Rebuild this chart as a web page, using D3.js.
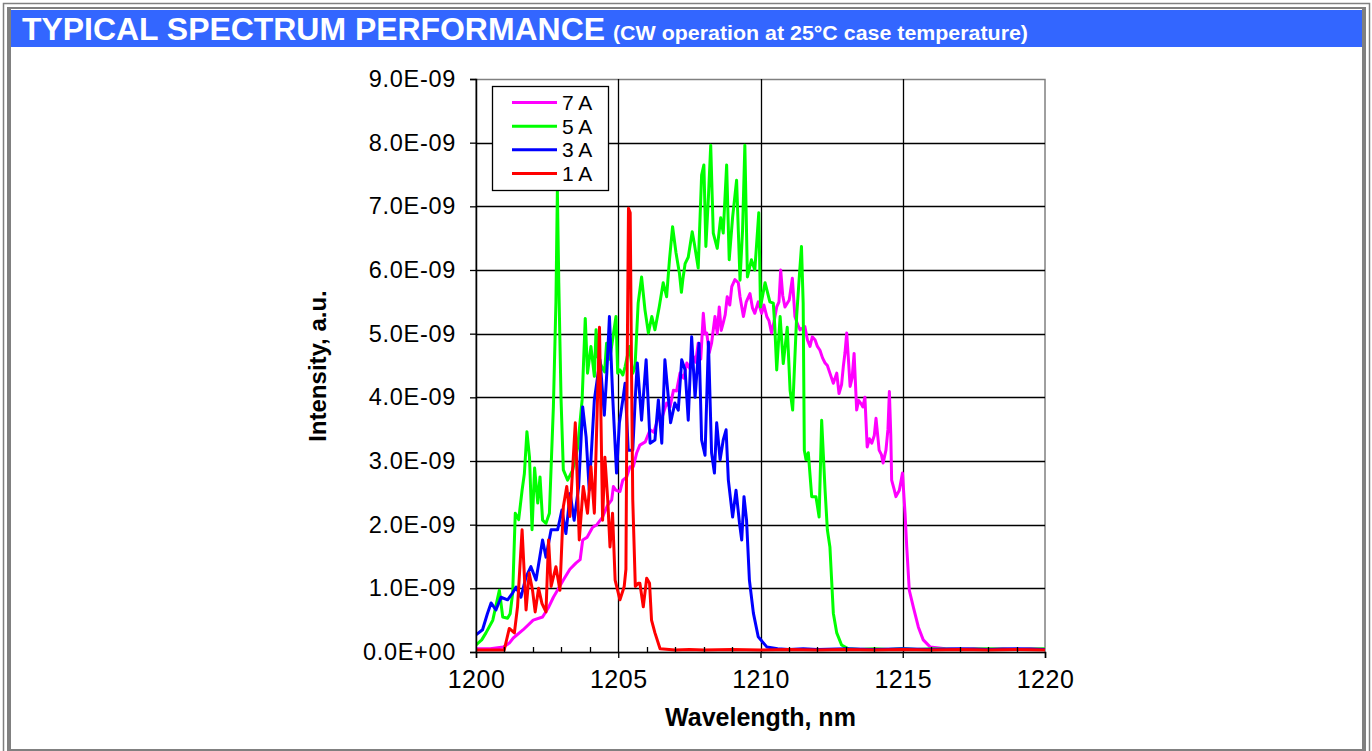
<!DOCTYPE html>
<html>
<head>
<meta charset="utf-8">
<script src="https://cdn.jsdelivr.net/npm/d3@7/dist/d3.min.js"></script>
<style>
  html, body { margin: 0; padding: 0; background: #ffffff; }
  svg { display: block; font-family: "Liberation Sans", Arial, sans-serif; }
</style>
</head>
<body>
<svg id="chart" width="1372" height="751"></svg>
<script>
// ---------------- DATA ----------------
const titleMain = "TYPICAL SPECTRUM PERFORMANCE";
const titleSub = "(CW operation at 25\u00B0C case temperature)";
const xLabel = "Wavelength, nm";
const yLabel = "Intensity, a.u.";
const xTicks = [1200, 1205, 1210, 1215, 1220];
const xMinorTicks = [1201,1202,1203,1204,1206,1207,1208,1209,1211,1212,1213,1214,1216,1217,1218,1219];
const yTicks = [0,1,2,3,4,5,6,7,8,9];          // in units of 1E-09
const intensityUnit = 1e-9;
const seriesNames = ["7 A", "5 A", "3 A", "1 A"];
const seriesColors = ["#ff00ff", "#00ff00", "#0000ff", "#ff0000"];

// [wavelength nm, intensity in 1E-09]
const spec7A = [
  [1200.0,0.05],[1200.5,0.05],[1200.96,0.08],[1201.17,0.14],[1201.31,0.22],[1201.66,0.35],[1202.01,0.5],
  [1202.34,0.55],[1202.55,0.7],[1202.72,0.86],[1202.93,1.02],[1203.07,1.13],[1203.3,1.3],[1203.52,1.4],
  [1203.66,1.45],[1203.75,1.76],[1203.9,1.8],[1204.1,1.96],[1204.25,2.0],[1204.45,2.12],[1204.62,2.3],
  [1204.77,2.39],[1204.83,2.6],[1204.92,2.54],[1205.06,2.52],[1205.16,2.7],[1205.3,2.75],[1205.41,2.91],
  [1205.53,2.91],[1205.65,3.13],[1205.76,3.25],[1205.95,3.3],[1206.12,3.49],[1206.25,3.45],[1206.41,3.69],
  [1206.55,3.7],[1206.7,3.91],[1206.82,3.85],[1206.94,4.11],[1207.05,4.1],[1207.17,4.38],[1207.3,4.3],
  [1207.41,4.54],[1207.52,4.45],[1207.64,4.64],[1207.72,4.55],[1207.81,4.85],[1207.9,4.6],[1207.99,5.32],
  [1208.05,5.0],[1208.11,5.01],[1208.2,4.7],[1208.28,4.85],[1208.4,5.27],[1208.48,5.0],[1208.55,5.42],
  [1208.62,5.05],[1208.69,5.17],[1208.76,5.3],[1208.83,5.58],[1208.92,5.45],[1208.99,5.74],[1209.1,5.85],
  [1209.22,5.8],[1209.28,5.58],[1209.4,5.27],[1209.5,5.5],[1209.63,5.63],[1209.72,5.4],[1209.8,5.32],
  [1209.92,5.5],[1210.04,5.32],[1210.12,5.45],[1210.22,5.27],[1210.3,5.2],[1210.39,5.01],[1210.48,5.2],
  [1210.57,5.42],[1210.65,5.5],[1210.71,6.0],[1210.78,5.6],[1210.86,5.42],[1211.01,5.53],[1211.12,5.87],
  [1211.21,5.27],[1211.3,5.15],[1211.39,5.06],[1211.56,5.11],[1211.65,4.9],[1211.74,4.8],[1211.82,4.95],
  [1211.92,4.9],[1212.0,4.8],[1212.09,4.74],[1212.18,4.62],[1212.27,4.54],[1212.35,4.5],[1212.44,4.38],
  [1212.56,4.22],[1212.68,4.38],[1212.76,4.06],[1212.85,4.2],[1212.91,4.48],[1212.97,4.7],[1213.03,5.01],
  [1213.09,4.6],[1213.15,4.17],[1213.22,4.3],[1213.29,4.69],[1213.38,3.8],[1213.45,3.95],[1213.52,3.91],
  [1213.6,3.85],[1213.67,4.0],[1213.75,3.22],[1213.83,3.35],[1213.91,3.28],[1214.0,3.4],[1214.06,3.67],
  [1214.12,3.4],[1214.17,3.17],[1214.25,3.1],[1214.31,2.97],[1214.41,3.17],[1214.48,3.5],[1214.53,4.09],
  [1214.58,3.4],[1214.61,2.7],[1214.7,2.55],[1214.76,2.44],[1214.88,2.54],[1214.99,2.81],[1215.08,2.18],
  [1215.14,1.65],[1215.23,0.97],[1215.37,0.71],[1215.55,0.39],[1215.72,0.19],[1215.96,0.08],[1216.5,0.05],
  [1217.0,0.04],[1217.5,0.05],[1218.0,0.04],[1218.5,0.05],[1219.0,0.04],[1219.5,0.05],[1220.0,0.04]
];

const spec5A = [
  [1200.0,0.11],[1200.2,0.19],[1200.35,0.3],[1200.59,0.5],[1200.82,0.97],[1200.94,0.55],[1201.11,0.53],
  [1201.2,0.6],[1201.29,0.93],[1201.38,2.18],[1201.5,2.08],[1201.62,2.54],[1201.7,2.8],[1201.79,3.46],
  [1201.88,3.06],[1201.97,1.92],[1202.06,2.89],[1202.17,2.34],[1202.25,2.75],[1202.34,2.07],[1202.46,2.02],
  [1202.58,2.18],[1202.72,3.85],[1202.81,5.5],[1202.86,7.25],[1202.91,5.8],[1202.99,3.96],[1203.07,2.86],
  [1203.22,2.7],[1203.4,2.86],[1203.57,3.2],[1203.73,3.96],[1203.84,5.24],[1203.92,4.38],[1204.04,4.8],
  [1204.16,4.33],[1204.22,5.06],[1204.28,4.64],[1204.42,4.48],[1204.52,4.4],[1204.59,4.85],[1204.7,4.6],
  [1204.8,4.9],[1204.92,5.27],[1204.98,4.38],[1205.06,4.43],[1205.16,4.35],[1205.24,4.48],[1205.39,4.8],
  [1205.51,4.38],[1205.59,4.48],[1205.7,5.48],[1205.82,5.89],[1205.94,5.37],[1206.06,5.01],[1206.18,5.27],
  [1206.29,5.06],[1206.44,5.42],[1206.58,5.8],[1206.7,5.58],[1206.8,6.16],[1206.91,6.68],[1207.03,6.27],
  [1207.15,5.95],[1207.22,5.65],[1207.27,5.85],[1207.35,6.1],[1207.46,6.2],[1207.6,6.6],[1207.68,6.4],
  [1207.81,6.03],[1207.93,7.49],[1208.01,7.65],[1208.08,6.37],[1208.17,7.15],[1208.25,7.96],[1208.34,6.58],
  [1208.48,6.34],[1208.6,6.82],[1208.69,6.58],[1208.81,7.65],[1208.9,6.16],[1209.02,6.83],[1209.16,7.41],
  [1209.28,5.84],[1209.37,6.63],[1209.45,7.96],[1209.54,5.89],[1209.68,6.16],[1209.8,6.0],[1209.94,6.9],
  [1210.0,5.42],[1210.16,5.8],[1210.33,5.5],[1210.45,5.48],[1210.5,5.13],[1210.57,4.43],[1210.69,5.27],
  [1210.8,4.53],[1210.94,5.1],[1211.04,4.11],[1211.13,3.8],[1211.27,5.27],[1211.38,6.0],[1211.44,6.37],
  [1211.5,5.48],[1211.54,3.17],[1211.6,3.02],[1211.68,3.13],[1211.8,2.44],[1211.95,2.44],[1212.06,2.12],
  [1212.15,3.64],[1212.27,2.54],[1212.35,1.92],[1212.44,1.65],[1212.5,1.13],[1212.56,0.61],[1212.68,0.3],
  [1212.85,0.11],[1213.09,0.05],[1213.5,0.04],[1214.0,0.05],[1214.5,0.04],[1215.0,0.05],[1215.5,0.04],
  [1216.0,0.05],[1217.0,0.04],[1218.0,0.05],[1219.0,0.04],[1220.0,0.05]
];

const spec3A = [
  [1200.0,0.27],[1200.23,0.35],[1200.4,0.6],[1200.53,0.77],[1200.7,0.66],[1200.88,0.86],[1201.11,0.82],
  [1201.29,0.93],[1201.41,1.02],[1201.58,0.86],[1201.76,1.18],[1201.93,1.34],[1202.11,1.13],[1202.34,1.76],
  [1202.46,1.49],[1202.64,1.92],[1202.87,1.92],[1203.02,2.23],[1203.16,1.86],[1203.31,2.49],[1203.45,2.07],
  [1203.61,2.6],[1203.75,3.85],[1203.87,3.38],[1203.98,2.54],[1204.16,3.96],[1204.36,4.59],[1204.51,3.72],
  [1204.6,4.4],[1204.69,5.27],[1204.81,3.96],[1204.94,2.81],[1205.04,3.6],[1205.16,3.96],[1205.24,4.22],
  [1205.35,3.17],[1205.51,3.17],[1205.6,4.0],[1205.67,4.54],[1205.82,3.64],[1205.98,4.59],[1206.12,3.28],
  [1206.29,3.33],[1206.41,3.96],[1206.53,3.28],[1206.64,4.59],[1206.76,4.0],[1206.84,3.6],[1206.99,3.91],
  [1207.11,3.8],[1207.23,4.59],[1207.35,4.43],[1207.46,3.64],[1207.58,4.95],[1207.7,4.0],[1207.84,4.85],
  [1207.93,3.33],[1208.05,3.09],[1208.17,4.87],[1208.28,3.13],[1208.38,2.81],[1208.46,3.6],[1208.58,3.02],
  [1208.69,3.33],[1208.79,3.49],[1208.87,2.7],[1209.02,2.12],[1209.14,2.54],[1209.26,2.03],[1209.34,1.76],
  [1209.42,2.44],[1209.51,2.07],[1209.61,1.13],[1209.75,0.61],[1209.92,0.24],[1210.22,0.08],[1210.6,0.05],
  [1211.0,0.04],[1211.5,0.05],[1212.0,0.04],[1213.0,0.05],[1214.0,0.04],[1215.0,0.05],[1216.0,0.04],
  [1217.0,0.05],[1218.0,0.04],[1219.0,0.05],[1220.0,0.04]
];

const spec1A = [
  [1200.0,0.03],[1200.5,0.03],[1200.99,0.03],[1201.08,0.2],[1201.17,0.37],[1201.35,0.3],[1201.46,0.71],
  [1201.62,1.92],[1201.76,0.66],[1201.87,1.24],[1201.99,0.96],[1202.08,0.63],[1202.2,1.0],[1202.32,0.76],
  [1202.46,0.63],[1202.55,1.76],[1202.64,1.03],[1202.81,1.34],[1202.95,0.97],[1203.07,2.28],[1203.19,2.6],
  [1203.3,2.13],[1203.49,3.6],[1203.63,1.76],[1203.77,2.6],[1203.92,2.18],[1204.04,2.91],[1204.16,2.18],
  [1204.34,5.1],[1204.45,2.07],[1204.53,3.06],[1204.63,2.39],[1204.71,1.65],[1204.8,2.18],[1204.89,1.13],
  [1205.06,0.82],[1205.21,1.03],[1205.27,1.3],[1205.31,4.27],[1205.36,6.97],[1205.42,6.9],[1205.47,4.27],
  [1205.51,2.39],[1205.6,1.03],[1205.7,1.08],[1205.76,1.08],[1205.88,0.71],[1206.0,1.16],[1206.1,1.08],
  [1206.17,0.5],[1206.29,0.3],[1206.47,0.05],[1207.0,0.03],[1207.5,0.04],[1208.0,0.03],[1209.0,0.04],
  [1210.0,0.03],[1211.0,0.04],[1212.0,0.03],[1213.0,0.04],[1214.0,0.03],[1215.0,0.04],[1216.0,0.03],
  [1217.0,0.04],[1218.0,0.03],[1219.0,0.04],[1220.0,0.03]
];

const seriesData = [spec7A, spec5A, spec3A, spec1A];

// ---------------- DRAW ----------------
const svg = d3.select("#chart");
const plot = { left: 476, right: 1045, top: 79, bottom: 652 };
const grey = "#808080";
const font = '"Liberation Sans", Arial, sans-serif';

// page frame
svg.append("rect").attr("x", 3.5).attr("y", 3.5).attr("width", 1366).attr("height", 760)
  .attr("fill", "none").attr("stroke", grey).attr("stroke-width", 1.5);
svg.append("rect").attr("x", 7).attr("y", 8).attr("width", 4).attr("height", 743).attr("fill", grey);
svg.append("rect").attr("x", 1362).attr("y", 8).attr("width", 4).attr("height", 743).attr("fill", grey);
svg.append("rect").attr("x", 7).attr("y", 7).attr("width", 1359).attr("height", 2).attr("fill", grey);
svg.append("rect").attr("x", 7).attr("y", 749).attr("width", 1359).attr("height", 2).attr("fill", grey);

// title bar
svg.append("rect").attr("x", 11).attr("y", 10).attr("width", 1351).attr("height", 37).attr("fill", "#3366ff");
svg.append("text").attr("x", 22).attr("y", 40)
  .attr("fill", "#ffffff").attr("font-family", font).attr("font-weight", "bold")
  .attr("font-size", 31).attr("textLength", 583).attr("lengthAdjust", "spacingAndGlyphs").text(titleMain);
svg.append("text").attr("x", 613).attr("y", 40).attr("fill", "#ffffff").attr("font-family", font)
  .attr("font-weight", "bold").attr("font-size", 20).attr("textLength", 415).attr("lengthAdjust", "spacingAndGlyphs")
  .text(titleSub);

// scales
const x = d3.scaleLinear().domain([1200, 1220]).range([plot.left, plot.right]);
const y = d3.scaleLinear().domain([0, 9 * intensityUnit]).range([plot.bottom, plot.top]);

function sci(v) {
  if (v === 0) return "0.0E+00";
  const e = Math.floor(Math.log10(Math.abs(v)) + 1e-9);
  const m = v / Math.pow(10, e);
  return m.toFixed(1) + "E" + (e < 0 ? "-" : "+") + String(Math.abs(e)).padStart(2, "0");
}

// plot border (grey) and gridlines (black)
svg.append("rect").attr("x", plot.left).attr("y", plot.top + 0.5)
  .attr("width", plot.right - plot.left).attr("height", plot.bottom - plot.top)
  .attr("fill", "#ffffff").attr("stroke", grey).attr("stroke-width", 1.5);

const grid = svg.append("g");
grid.selectAll("line.h").data(yTicks.filter(t => t > 0 && t < 9)).enter().append("line")
  .attr("x1", plot.left).attr("x2", plot.right)
  .attr("y1", d => Math.round(y(d * intensityUnit)) + 0.5).attr("y2", d => Math.round(y(d * intensityUnit)) + 0.5)
  .attr("stroke", "#000").attr("stroke-width", 1.3);
grid.selectAll("line.v").data(xTicks.filter(t => t > 1200 && t < 1220)).enter().append("line")
  .attr("y1", plot.top).attr("y2", plot.bottom)
  .attr("x1", d => Math.round(x(d)) + 0.5).attr("x2", d => Math.round(x(d)) + 0.5)
  .attr("stroke", "#000").attr("stroke-width", 1.3);

// series
svg.append("defs").append("clipPath").attr("id", "plotclip")
  .append("rect").attr("x", plot.left).attr("y", plot.top).attr("width", plot.right - plot.left + 1).attr("height", plot.bottom - plot.top + 2);

const line = d3.line().x(d => x(d[0])).y(d => y(d[1] * intensityUnit));
const lines = svg.append("g").attr("clip-path", "url(#plotclip)");
seriesData.forEach((s, i) => {
  lines.append("path").datum(s).attr("d", line)
    .attr("fill", "none").attr("stroke", seriesColors[i]).attr("stroke-width", 3)
    .attr("stroke-linejoin", "round");
});

// axes
const yAxis = d3.axisLeft(y).tickValues(yTicks.map(t => t * intensityUnit)).tickFormat(sci).tickSize(6).tickPadding(14);
const gy = svg.append("g").attr("transform", `translate(${plot.left},0)`).call(yAxis);
gy.select(".domain").attr("stroke", "#000").attr("stroke-width", 1.5);
gy.selectAll(".tick line").attr("stroke", "#000").attr("stroke-width", 1.3);
gy.selectAll(".tick text").attr("font-family", font).attr("font-size", 23.5).attr("fill", "#000")
  .attr("letter-spacing", 0.7);

const xAxis = d3.axisBottom(x).tickValues(xTicks).tickFormat(d3.format("d")).tickSize(6).tickPadding(12);
const gx = svg.append("g").attr("transform", `translate(0,${plot.bottom})`).call(xAxis);
gx.select(".domain").attr("stroke", "#000").attr("stroke-width", 1.5);
gx.selectAll(".tick text").attr("font-family", font).attr("font-size", 25).attr("fill", "#000")
  .attr("letter-spacing", 0.5);
gx.selectAll(".tick line").attr("stroke", "#000").attr("stroke-width", 1.3);

// minor ticks inward
svg.append("g").selectAll("line").data(xMinorTicks).enter().append("line")
  .attr("x1", d => Math.round(x(d)) + 0.5).attr("x2", d => Math.round(x(d)) + 0.5)
  .attr("y1", plot.bottom).attr("y2", plot.bottom - 5)
  .attr("stroke", "#000").attr("stroke-width", 1.3);

// axis titles
svg.append("text").attr("x", (plot.left + plot.right) / 2).attr("y", 726)
  .attr("text-anchor", "middle").attr("font-family", font).attr("font-weight", "bold")
  .attr("font-size", 25).attr("fill", "#000").text(xLabel);
svg.append("text").attr("transform", `translate(326,366) rotate(-90)`)
  .attr("text-anchor", "middle").attr("font-family", font).attr("font-weight", "bold")
  .attr("font-size", 24).attr("fill", "#000").text(yLabel);

// legend
const lg = svg.append("g");
lg.append("rect").attr("x", 492.5).attr("y", 86.5).attr("width", 116).attr("height", 104)
  .attr("fill", "#ffffff").attr("stroke", "#000").attr("stroke-width", 1.3);
const rowY = d3.scalePoint().domain(seriesNames).range([102.5, 173.5]);
seriesNames.forEach((name, i) => {
  lg.append("line").attr("x1", 512).attr("x2", 557).attr("y1", rowY(name)).attr("y2", rowY(name))
    .attr("stroke", seriesColors[i]).attr("stroke-width", 3);
  lg.append("text").attr("x", 562).attr("y", rowY(name)).attr("dy", "0.36em")
    .attr("font-family", font).attr("font-size", 21).attr("fill", "#000").text(name);
});
</script>
</body>
</html>
